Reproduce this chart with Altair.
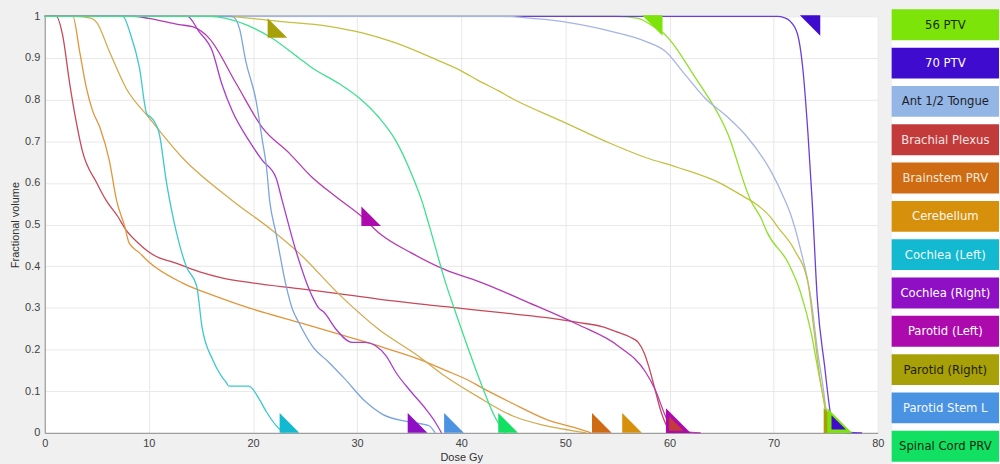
import altair as alt
import pandas as pd

# ---------------- data ----------------
names = ["56 PTV", "70 PTV", "Ant 1/2 Tongue", "Brachial Plexus", "Brainstem PRV",
         "Cerebellum", "Cochlea (Left)", "Cochlea (Right)", "Parotid (Left)",
         "Parotid (Right)", "Parotid Stem L", "Spinal Cord PRV"]

line_colors = ["#8ee028", "#6a3fd8", "#a6b4e4", "#c8485a", "#e2953a", "#d4aa50",
               "#3cc8cc", "#a93ccc", "#b43ab4", "#c4c040", "#7ba4e0", "#3ee090"]
box_colors = ["#7de40a", "#3f0ccf", "#94b6e6", "#c23a3a", "#cf6b12", "#d6900c",
              "#12b9d0", "#8e0fc4", "#ad0aad", "#a8a008", "#4a92e2", "#12e062"]
text_colors = ["#1a2a00", "#ffffff", "#1e1e2a", "#f4e4e4", "#f6e8d8", "#fff8ee",
               "#f0ffff", "#ffffff", "#ffffff", "#1e1e00", "#f4f8ff", "#0a2a10"]

ptv56_dose = [0, 55, 57, 58.5, 59.2, 62.5, 65.6, 67.8, 68.8, 69.4, 71.4, 72.6, 73.6, 74.2, 74.9, 75.2, 75.5]
ptv56_vol = [1, 1, 0.995, 0.975, 0.964, 0.852, 0.718, 0.558, 0.515, 0.48, 0.408, 0.336, 0.241, 0.16, 0.064, 0.01, 0]

ptv70_dose = [0, 70.4, 71.0, 71.6, 72.3, 72.8, 73.3, 73.7, 74.2, 74.9, 75.5, 75.8, 76.3, 78.5]
ptv70_vol = [1, 1, 0.997, 0.988, 0.957, 0.876, 0.718, 0.558, 0.32, 0.16, 0.04, 0.01, 0.002, 0]

tongue_dose = [0, 44, 46, 49.6, 54.4, 57.7, 59.6, 61.5, 63.4, 65.5, 67.2, 69.7, 71.1, 71.6, 72.6, 73.6, 74.2, 74.9, 75.2, 75.6]
tongue_vol = [1, 1, 0.997, 0.988, 0.964, 0.94, 0.916, 0.86, 0.804, 0.76, 0.718, 0.63, 0.558, 0.527, 0.439, 0.32, 0.2, 0.081, 0.01, 0]

brachial_dose = [0, 1.1, 1.7, 2.4, 3.0, 3.6, 5.0, 5.9, 7.0, 7.8, 9.0, 10.0, 11.0, 12.3, 14.8, 17.0, 19.9, 24.4,
                 28.9, 33.0, 38.5, 43.6, 48.0, 51.2, 53.5, 55.1, 56.2, 57.0, 57.6, 58.0, 58.6, 59.2, 59.9, 60.5]
brachial_vol = [1, 1, 0.957, 0.838, 0.75, 0.678, 0.6, 0.558, 0.52, 0.487, 0.455, 0.434, 0.42, 0.41, 0.387, 0.372,
                0.36, 0.346, 0.332, 0.318, 0.303, 0.289, 0.277, 0.265, 0.255, 0.241, 0.23, 0.217, 0.19, 0.16,
                0.105, 0.05, 0.01, 0]

brainstem_dose = [0, 2.7, 3.35, 4.0, 4.6, 5.3, 6.2, 6.9, 7.7, 8.1, 9.1, 10.0, 13.2, 16.5, 19.6, 24.4, 28.9,
                  32.5, 35.9, 38.5, 41.0, 41.7, 44.9, 48.1, 51.2, 52.5]
brainstem_vol = [1, 1, 0.916, 0.828, 0.773, 0.733, 0.654, 0.558, 0.494, 0.456, 0.432, 0.41, 0.36, 0.327, 0.30,
                 0.265, 0.232, 0.205, 0.177, 0.15, 0.122, 0.112, 0.071, 0.033, 0.01, 0]

cerebellum_dose = [0, 3.0, 4.5, 5.0, 6.2, 7.8, 10.0, 13.2, 18.0, 21.8, 24.4, 28.5, 32.0, 35.9, 38.5, 41.7,
                   44.9, 48.1, 51.2, 52.0]
cerebellum_vol = [1, 1, 0.995, 0.985, 0.916, 0.828, 0.757, 0.661, 0.558, 0.487, 0.432, 0.327, 0.25, 0.184,
                  0.135, 0.085, 0.041, 0.017, 0.003, 0]

cochlea_l_dose = [0, 7.5, 8.2, 9.1, 9.8, 10.3, 11.0, 11.7, 12.0, 12.9, 13.6, 14.6, 15.1, 16.1, 17.0, 17.4,
                  17.7, 19.6, 20.6, 21.3, 22.5, 23.0]
cochlea_l_vol = [1, 1, 0.96, 0.876, 0.766, 0.755, 0.718, 0.6, 0.558, 0.456, 0.399, 0.351, 0.255, 0.177, 0.135,
                 0.122, 0.112, 0.112, 0.081, 0.05, 0.01, 0]

cochlea_r_dose = [0, 13.7, 14.8, 16.1, 17.0, 18.0, 19.6, 20.9, 22.2, 22.8, 24.1, 25.7, 26.3, 26.8, 28.0, 29.5,
                  30.8, 32.8, 33.7, 35.2, 36.6, 37.5, 38.1]
cochlea_r_vol = [1, 1, 0.964, 0.916, 0.838, 0.773, 0.702, 0.654, 0.613, 0.558, 0.439, 0.327, 0.3, 0.29, 0.248,
                 0.217, 0.217, 0.184, 0.146, 0.098, 0.057, 0.026, 0]

parotid_l_dose = [0, 8.4, 10.0, 12.9, 14.2, 15.8, 18.4, 20.9, 23.5, 25.7, 28.0, 30.5, 32.1, 35.2, 38.5, 41.7,
                  43.6, 45.8, 51.2, 55.1, 57.7, 58.6, 59.6, 60.2, 61.5, 63.0]
parotid_l_vol = [1, 1, 0.995, 0.98, 0.975, 0.947, 0.838, 0.733, 0.671, 0.613, 0.566, 0.518, 0.48, 0.432, 0.391,
                 0.363, 0.344, 0.32, 0.26, 0.208, 0.146, 0.105, 0.041, 0.01, 0.002, 0]

parotid_r_dose = [0, 17.0, 22.5, 27.3, 30.5, 33.7, 37.5, 40.0, 41.7, 43.6, 44.8, 49.6, 54.4, 57.7, 60.8, 64.9,
                  67.2, 68.2, 69.7, 70.4, 72.0, 73.3, 73.9, 74.5, 75.2, 75.6]
parotid_r_vol = [1, 1, 0.988, 0.976, 0.96, 0.936, 0.897, 0.869, 0.845, 0.821, 0.804, 0.749, 0.694, 0.661, 0.637,
                 0.599, 0.566, 0.551, 0.518, 0.494, 0.439, 0.36, 0.241, 0.122, 0.041, 0]

stem_dose = [0, 18.0, 18.7, 19.3, 20.3, 20.9, 21.3, 21.6, 22.2, 23.2, 23.8, 24.4, 25.7, 27.3, 28.8, 30.8, 32.4,
             35.0, 36.9, 37.5]
stem_vol = [1, 1, 0.971, 0.893, 0.797, 0.702, 0.637, 0.558, 0.48, 0.351, 0.296, 0.265, 0.208, 0.169, 0.13,
            0.075, 0.045, 0.026, 0.017, 0]

cord_dose = [0, 16.0, 17.4, 19.3, 21.8, 24.4, 25.7, 28.3, 30.2, 32.1, 33.7, 35.2, 36.2, 36.9, 38.5, 39.5, 40.7,
             42.0, 43.3, 44.2]
cord_vol = [1, 1, 0.995, 0.98, 0.948, 0.9, 0.876, 0.838, 0.804, 0.757, 0.702, 0.623, 0.558, 0.5, 0.36, 0.286,
            0.2, 0.112, 0.035, 0]

# constraint markers
up_names = ["Parotid (Right)", "Parotid (Left)", "Cochlea (Left)", "Cochlea (Right)", "Parotid Stem L",
            "Spinal Cord PRV", "Brainstem PRV", "Cerebellum"]
up_dose = [22.35, 31.35, 23.5, 35.8, 39.3, 44.5, 53.5, 56.4]
up_vol = [0.972, 0.52, 0.024, 0.024, 0.024, 0.024, 0.024, 0.024]

down_names = ["56 PTV", "70 PTV"]
down_dose = [58.35, 73.5]
down_vol = [0.978, 0.978]

big_names = ["Parotid (Left)", "Parotid (Right)", "56 PTV"]
big_dose = [60.85, 76.0, 76.35]
big_vol = [0.029, 0.029, 0.029]

small_names = ["Brachial Plexus", "70 PTV"]
small_dose = [60.65, 76.25]
small_vol = [0.022, 0.025]

x_ticks = [0, 10, 20, 30, 40, 50, 60, 70, 80]
y_ticks = [0, 0.1, 0.2, 0.3, 0.4, 0.5, 0.6, 0.7, 0.8, 0.9, 1]

# ---------------- build tables ----------------
curves = [
    ("56 PTV", ptv56_dose, ptv56_vol), ("70 PTV", ptv70_dose, ptv70_vol),
    ("Ant 1/2 Tongue", tongue_dose, tongue_vol), ("Brachial Plexus", brachial_dose, brachial_vol),
    ("Brainstem PRV", brainstem_dose, brainstem_vol), ("Cerebellum", cerebellum_dose, cerebellum_vol),
    ("Cochlea (Left)", cochlea_l_dose, cochlea_l_vol), ("Cochlea (Right)", cochlea_r_dose, cochlea_r_vol),
    ("Parotid (Left)", parotid_l_dose, parotid_l_vol), ("Parotid (Right)", parotid_r_dose, parotid_r_vol),
    ("Parotid Stem L", stem_dose, stem_vol), ("Spinal Cord PRV", cord_dose, cord_vol),
]
rows = []
for nm, ds, vs in curves:
    for i, (d, v) in enumerate(zip(ds, vs)):
        rows.append({"name": nm, "dose": d, "vol": v, "i": i})
lines_df = pd.DataFrame(rows)


def mk(nms, ds, vs):
    return pd.DataFrame({"marker": nms, "dose": ds, "vol": vs})


FONT = "Liberation Sans"

x_enc = alt.X("dose:Q", scale=alt.Scale(domain=[0, 80], nice=False, zero=False),
              axis=alt.Axis(values=x_ticks, title="Dose Gy", labelFlush=False,
                            labelPadding=5, titlePadding=3))
y_enc = alt.Y("vol:Q", scale=alt.Scale(domain=[0, 1], nice=False),
              axis=alt.Axis(values=y_ticks, format="~g", title="Fractional volume",
                            labelPadding=5, titlePadding=4))

lines = alt.Chart(lines_df).mark_line(strokeWidth=1.3, interpolate="monotone").encode(
    x=x_enc, y=y_enc,
    color=alt.Color("name:N", scale=alt.Scale(domain=names, range=line_colors), legend=None),
    detail="name:N",
    order="i:Q",
)

UP = "M -1 -1 L -1 1 L 1 1 Z"
DOWN = "M -1 -1 L 1 -1 L 1 1 Z"
mcolor = alt.Color("marker:N", scale=alt.Scale(domain=names, range=box_colors), legend=None)


def tri(df, shape, size):
    return alt.Chart(df).mark_point(shape=shape, size=size, filled=True, opacity=1,
                                    strokeWidth=0).encode(x="dose:Q", y="vol:Q", color=mcolor)


markers = alt.layer(
    tri(mk(up_names, up_dose, up_vol), UP, 390),
    tri(mk(down_names, down_dose, down_vol), DOWN, 420),
    tri(mk(big_names, big_dose, big_vol), UP, 620),
    tri(mk(small_names, small_dose, small_vol), UP, 210),
)

main = alt.layer(lines, markers).resolve_scale(color="independent").properties(
    width=838, height=419,
    view=alt.ViewBackground(fill="white", stroke="transparent"),
)

leg_df = pd.DataFrame({"name": names})
ly = alt.Y("name:N", sort=names, axis=None,
           scale=alt.Scale(domain=names, paddingInner=0.195, paddingOuter=0))
leg_boxes = alt.Chart(leg_df).mark_rect(yOffset=-7, y2Offset=-7).encode(
    y=ly,
    color=alt.Color("name:N", scale=alt.Scale(domain=names, range=box_colors), legend=None),
)
leg_text = alt.Chart(leg_df).mark_text(
    font="Liberation Sans Narrow, DejaVu Sans Condensed, sans-serif", fontSize=13,
    align="center", baseline="middle", dy=-7
).encode(
    y=ly, text="name:N",
    color=alt.Color("name:N", scale=alt.Scale(domain=names, range=text_colors), legend=None),
)
legend = alt.layer(leg_boxes, leg_text).resolve_scale(color="independent").properties(
    width=108, height=455,
    view=alt.ViewBackground(fill="white", stroke="transparent"),
)

chart = alt.hconcat(main, legend, spacing=6).properties(
    padding={"left": 9, "top": 7, "right": 0, "bottom": 0},
    background="#f0f0f0",
).configure_axis(
    labelFont=FONT, labelFontSize=11, labelColor="#404040",
    titleFont=FONT, titleFontSize=11, titleColor="#303030", titleFontWeight="normal",
    gridColor="#e8e8e8", gridWidth=1, domainColor="#8c8c8c", ticks=False,
)

chart.save("out.html", embed_options={"renderer": "svg", "actions": False})
